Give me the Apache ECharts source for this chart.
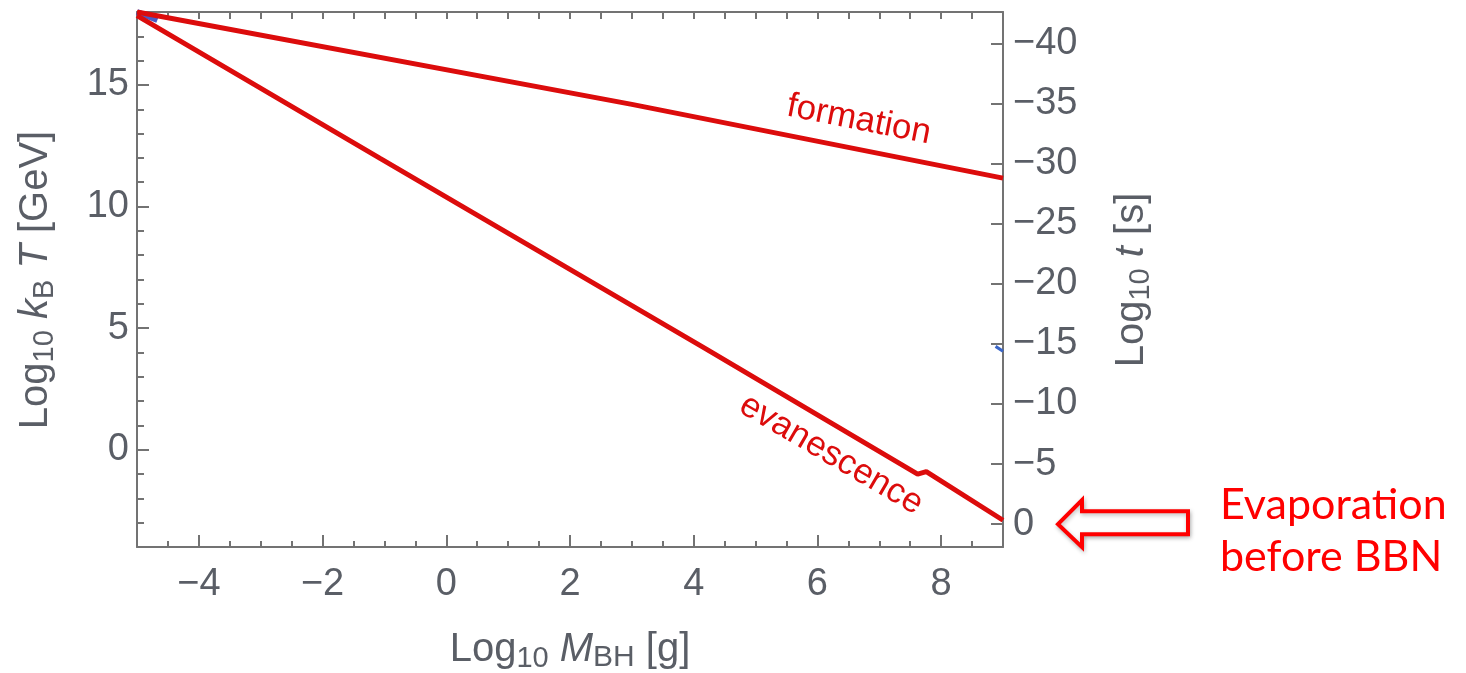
<!DOCTYPE html>
<html>
<head>
<meta charset="utf-8">
<script src="https://cdn.jsdelivr.net/npm/echarts@6/dist/echarts.min.js"></script>
<style>
  html, body { margin: 0; padding: 0; background: #ffffff; }
  #chart { width: 1466px; height: 673px; }
</style>
</head>
<body>
<div id="chart"></div>
<script>
// Black-hole mass (log10 g) vs. temperature (log10 GeV) for formation and evanescence
const formationMass = [-5, 3, 9];
const formationLogT = [18.0, 14.2, 11.17];

const evanescenceMass = [-5, -1.07, 4.19, 7.62, 7.76, 9];
const evanescenceLogT = [17.85, 11.98, 4.16, -1.0, -0.9, -2.9];

// short blue traces visible at the frame edges
const blueCornerMass = [-5, -4.67];
const blueCornerLogT = [18.0, 17.67];
const blueEdgeMass = [8.88, 9];
const blueEdgeLogT = [4.25, 4.05];

// tick labels
const massTicks = [-4, -2, 0, 2, 4, 6, 8];
const tempTicks = [0, 5, 10, 15];
const timeTicks = [-40, -35, -30, -25, -20, -15, -10, -5, 0];

const FONT = '"Liberation Sans", Arial, sans-serif';
const GRAY = '#5a5e66';
const FRAME = '#737373';
const RED = '#dc0c0c';

const pairs = (xs, ys) => xs.map((x, i) => [x, ys[i]]);
const minus = v => (v < 0 ? '\u2212' + Math.abs(v) : String(v));

const chart = echarts.init(document.getElementById('chart'), null, { renderer: 'canvas' });

const frameLine = { show: true, onZero: false, lineStyle: { color: FRAME, width: 2 } };
const noLine = { show: false, onZero: false };

const option = {
  animation: false,
  backgroundColor: '#ffffff',
  grid: { left: 137, right: 463, top: 12, bottom: 126, containLabel: false },
  xAxis: [
    { // bottom, labelled
      type: 'value', position: 'bottom', min: -5, max: 9,
      axisLine: frameLine,
      axisTick: { show: true, inside: true, length: 12, customValues: massTicks,
                  lineStyle: { color: FRAME, width: 2 } },
      axisLabel: { show: true, customValues: massTicks, margin: 19, fontSize: 38,
                   fontFamily: FONT, color: GRAY, formatter: minus },
      splitLine: { show: false }
    },
    { // bottom minor ticks
      type: 'value', position: 'bottom', min: -5, max: 9, interval: 0.5,
      axisLine: noLine,
      axisTick: { show: true, inside: true, length: 6, lineStyle: { color: FRAME, width: 2 } },
      axisLabel: { show: false }, splitLine: { show: false }
    },
    { // top frame
      type: 'value', position: 'top', min: -5, max: 9, interval: 0.5,
      axisLine: frameLine,
      axisTick: { show: true, inside: true, length: 7, lineStyle: { color: FRAME, width: 2 } },
      axisLabel: { show: false }, splitLine: { show: false }
    }
  ],
  yAxis: [
    { // left, labelled (log10 kB T)
      type: 'value', position: 'left', min: -4, max: 18,
      axisLine: frameLine,
      axisTick: { show: true, inside: true, length: 12, customValues: tempTicks,
                  lineStyle: { color: FRAME, width: 2 } },
      axisLabel: { show: true, customValues: tempTicks, margin: 8, fontSize: 38,
                   fontFamily: FONT, color: GRAY, formatter: minus },
      splitLine: { show: false }
    },
    { // left minor ticks
      type: 'value', position: 'left', min: -4, max: 18, interval: 1,
      axisLine: noLine,
      axisTick: { show: true, inside: true, length: 7, lineStyle: { color: FRAME, width: 2 } },
      axisLabel: { show: false }, splitLine: { show: false }
    },
    { // right, log10 t (inverted)
      type: 'value', position: 'right', inverse: true, min: -42.6, max: 1.9,
      axisLine: frameLine,
      axisTick: { show: true, inside: true, length: 12, customValues: timeTicks,
                  lineStyle: { color: FRAME, width: 2 } },
      axisLabel: { show: true, customValues: timeTicks, margin: 10, fontSize: 38,
                   fontFamily: FONT, color: GRAY, formatter: minus },
      splitLine: { show: false }
    }
  ],
  series: [
    {
      name: 'blue corner', type: 'line', xAxisIndex: 0, yAxisIndex: 0, z: 1,
      data: pairs(blueCornerMass, blueCornerLogT), symbol: 'none',
      lineStyle: { color: '#4a5bc4', width: 6 }
    },
    {
      name: 'blue edge', type: 'line', xAxisIndex: 0, yAxisIndex: 0, z: 1,
      data: pairs(blueEdgeMass, blueEdgeLogT), symbol: 'none',
      lineStyle: { color: '#3a66c8', width: 3 }
    },
    {
      name: 'formation', type: 'line', xAxisIndex: 0, yAxisIndex: 0, z: 3,
      data: pairs(formationMass, formationLogT), symbol: 'none',
      lineStyle: { color: RED, width: 5 }
    },
    {
      name: 'evanescence', type: 'line', xAxisIndex: 0, yAxisIndex: 0, z: 3,
      data: pairs(evanescenceMass, evanescenceLogT), symbol: 'none',
      lineStyle: { color: RED, width: 5 }
    }
  ]
};

chart.setOption(option);

// rotated curve labels follow the slope of their lines
function slopeAngle(xs, ys, i0, i1) {
  const p0 = chart.convertToPixel({ gridIndex: 0 }, [xs[i0], ys[i0]]);
  const p1 = chart.convertToPixel({ gridIndex: 0 }, [xs[i1], ys[i1]]);
  return Math.atan2(p1[1] - p0[1], p1[0] - p0[0]);
}
const formAngle = slopeAngle(formationMass, formationLogT, 1, 2);
const evanAngle = slopeAngle(evanescenceMass, evanescenceLogT, 1, 2);
const formPos = chart.convertToPixel({ gridIndex: 0 }, [6.67, 13.56]);
const evanPos = chart.convertToPixel({ gridIndex: 0 }, [6.22, -0.2]);
const zeroY = chart.convertToPixel({ yAxisIndex: 2 }, 0);
const rightEdge = chart.convertToPixel({ xAxisIndex: 0 }, 9);

const titleRich = {
  n: { fontSize: 40, fontFamily: FONT, fill: GRAY, lineHeight: 46, verticalAlign: 'middle' },
  i: { fontSize: 40, fontFamily: FONT, fill: GRAY, fontStyle: 'italic', lineHeight: 46, verticalAlign: 'middle' },
  s: { fontSize: 29, fontFamily: FONT, fill: GRAY, lineHeight: 24, verticalAlign: 'bottom' },
  b: { fontSize: 30, fontFamily: FONT, fill: GRAY, lineHeight: 38, verticalAlign: 'bottom' }
};

chart.setOption({
  graphic: [
    { // left axis title
      type: 'text', x: 36, y: 280, rotation: Math.PI / 2,
      style: { text: '{n|Log}{s|10}{n| }{i|k}{s|B}{n| }{i|T}{n| [GeV]}', rich: titleRich,
               align: 'center', verticalAlign: 'middle' }
    },
    { // right axis title
      type: 'text', x: 1132, y: 280, rotation: Math.PI / 2,
      style: { text: '{n|Log}{s|10}{n| }{i|t}{n| [s]}', rich: titleRich,
               align: 'center', verticalAlign: 'middle' }
    },
    { // bottom axis title
      type: 'text', x: 570, y: 650,
      style: { text: '{n|Log}{s|10}{n| }{i|M}{b|BH}{n| [g]}', rich: titleRich,
               align: 'center', verticalAlign: 'middle' }
    },
    {
      type: 'text', x: formPos[0], y: formPos[1], rotation: -formAngle, z: 10,
      style: { text: 'formation', fontSize: 35, fontFamily: FONT, fill: RED,
               align: 'center', verticalAlign: 'middle' }
    },
    {
      type: 'text', x: evanPos[0], y: evanPos[1], rotation: -evanAngle, z: 10,
      style: { text: 'evanescence', fontSize: 35, fontFamily: FONT, fill: RED,
               align: 'center', verticalAlign: 'middle' }
    },
    { // outline arrow pointing at log10 t = 0
      type: 'polygon', x: rightEdge + 55, y: zeroY, z: 10,
      shape: { points: [[0, 0], [24, -24], [24, -13], [130, -13], [130, 10], [24, 10], [24, 23]] },
      style: { fill: '#ffffff', stroke: '#ff0000', lineWidth: 4, lineJoin: 'miter',
               shadowBlur: 4, shadowColor: 'rgba(0,0,0,0.25)', shadowOffsetX: 1, shadowOffsetY: 2 }
    },
    {
      type: 'text', x: 1220, y: 505,
      style: { text: 'Evaporation', fontSize: 43, fontFamily: 'Lato, "Open Sans", sans-serif',
               fill: '#ff0000', align: 'left', verticalAlign: 'middle' }
    },
    {
      type: 'text', x: 1220, y: 557,
      style: { text: 'before BBN', fontSize: 43, fontFamily: 'Lato, "Open Sans", sans-serif',
               fill: '#ff0000', align: 'left', verticalAlign: 'middle' }
    }
  ]
});
</script>
</body>
</html>
